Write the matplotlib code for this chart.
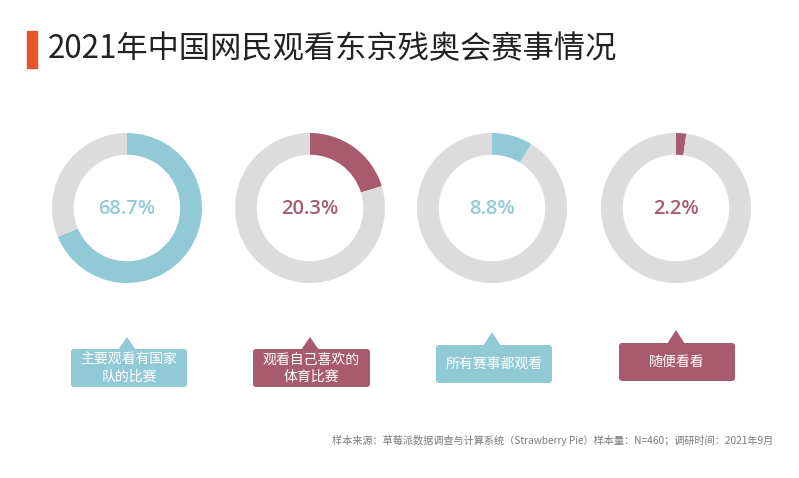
import matplotlib.pyplot as plt
from matplotlib.patches import FancyBboxPatch, Polygon, Rectangle

plt.rcParams['font.family'] = ['Noto Sans CJK SC', 'DejaVu Sans']

title = "2021年中国网民观看东京残奥会赛事情况"
values = [68.7, 20.3, 8.8, 2.2]
labels = ["主要观看有国家\n队的比赛", "观看自己喜欢的\n体育比赛", "所有赛事都观看", "随便看看"]
source = "样本来源：草莓派数据调查与计算系统（Strawberry Pie）样本量：N=460；调研时间：2021年9月"

blue = "#92c9d7"
red = "#a85a6f"
gray = "#dcdcdc"
colors = [blue, red, blue, red]

W, H = 799, 478
fig = plt.figure(figsize=(W / 100, H / 100), dpi=100)
bg = fig.add_axes([0, 0, 1, 1])
bg.set_xlim(0, W)
bg.set_ylim(H, 0)
bg.axis("off")

# title
bg.add_patch(Rectangle((27, 31), 10, 37, color="#e8552d"))
bg.text(48, 49, title, fontsize=22.5, va="center", ha="left", color="#222222")

# donut centres (px) and callout geometry
centers_x = [127, 310, 492, 676]
center_y = 208
R = 75
boxes = [(71, 349, 116, 38), (253, 349, 117, 38), (436, 345, 116, 38), (619, 343, 116, 38)]
tips_y = [337, 337, 332, 330]

for i, v in enumerate(values):
    cx = centers_x[i]
    ax = fig.add_axes([(cx - R) / W, 1 - (center_y + R) / H, 2 * R / W, 2 * R / H])
    ax.pie([v, 100 - v], colors=[colors[i], gray], startangle=90, counterclock=False,
           radius=1, wedgeprops=dict(width=0.29, linewidth=0))
    ax.set_xlim(-1, 1)
    ax.set_ylim(-1, 1)
    ax.text(0, -0.02, f"{v}%", ha="center", va="center", fontsize=14.5,
            color=colors[i], family=["Open Sans"], fontweight="semibold")

    x0, y0, w, h = boxes[i]
    bg.add_patch(FancyBboxPatch((x0, y0), w, h, boxstyle="round,pad=0,rounding_size=3",
                                facecolor=colors[i], edgecolor="none"))
    tx = centers_x[i]
    bg.add_patch(Polygon([(tx - 9, y0 + 1), (tx + 9, y0 + 1), (tx, tips_y[i])],
                         closed=True, facecolor=colors[i], edgecolor="none"))
    bg.text(x0 + w / 2, y0 + h / 2, labels[i], ha="center", va="center",
            fontsize=10, color="white", linespacing=1.25)

bg.text(773, 440, source, ha="right", va="center", fontsize=7.3, color="#7a7a7a")

fig.savefig("out.png", dpi=100, facecolor="white")
